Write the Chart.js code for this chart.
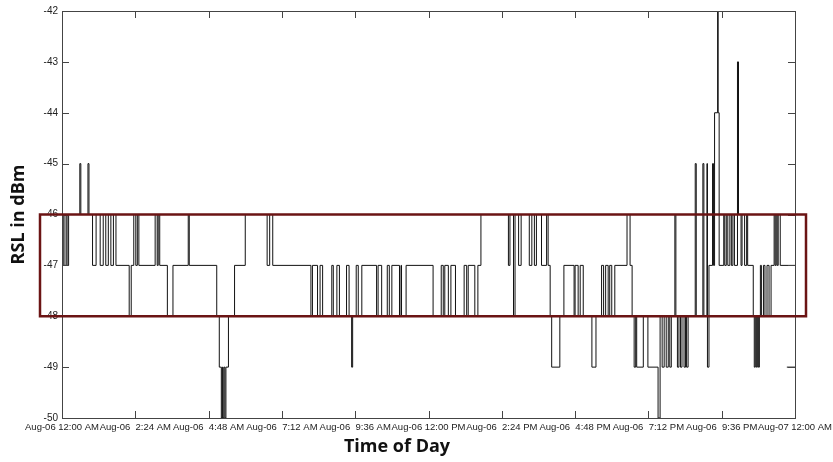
<!DOCTYPE html>
<html>
<head>
<meta charset="utf-8">
<script src="https://cdn.jsdelivr.net/npm/chart.js@4/dist/chart.umd.min.js"></script>
<style>
html,body{margin:0;background:#fff}
#wrap{width:833px;height:462px}
</style>
</head>
<body>
<div id="wrap"><canvas id="c"></canvas></div>
<script>
// RSL trace for one day (minutes after midnight, dBm)
const sampleMinutes = [
  0,2,4,8,10,13,35,37,51,53,60,67,75,81,86,91,96,101,106,132,136,141,145,148,151,183,187,189,192,207,218,248,250,
  304,309,313,315,316,318,320,322,327,339,360,403,408,414,
  489,492,502,507,512,530,533,540,545,559,564,569,571,578,582,589,618,621,628,639,643,648,663,666,667,676,
  729,745,749,752,759,764,773,790,795,798,811,817,823,
  877,880,887,890,897,902,918,923,928,932,942,952,955,959,962,978,986,
  1006,1008,1014,1018,1024,1041,1049,1060,1064,1068,1073,1076,1080,1086,1110,1116,1120,1124,1127,1129,
  1142,1151,1171,1175,1179,1183,1187,1191,1194,1197,1204,1206,1209,1212,1215,1218,1222,1225,1227,1230,
  1244,1246,1259,1261,1267,1268,1271,1278,1280,1282,1288,1289,1291,1300,1302,1305,1308,1312,1315,1318,1321,
  1327,1329,1334,1336,1341,1345,1347,1358,1360,1362,1364,1366,1368,1370,1372,1374,1378,1381,1385,1389,1393,
  1399,1401,1403,1405,1407,1411,1440
];
const rslDbm = [
  -47,-46,-47,-46,-47,-46,-45,-46,-45,-46,-47,-46,-47,-46,-47,-46,-47,-46,-47,-48,-47,-46,-47,-46,-47,-46,-47,-46,-47,-48,-47,-46,-47,
  -48,-49,-50,-49,-50,-49,-50,-49,-48,-47,-46,-47,-46,-47,
  -48,-47,-48,-47,-48,-47,-48,-47,-48,-47,-48,-49,-48,-47,-48,-47,-48,-47,-48,-47,-48,-47,-48,-47,-48,-47,
  -48,-47,-48,-47,-48,-47,-48,-47,-48,-47,-48,-47,-46,
  -47,-46,-48,-46,-47,-46,-47,-46,-47,-46,-47,-46,-47,-48,-49,-48,-47,
  -48,-47,-48,-47,-48,-49,-48,-47,-48,-47,-48,-47,-48,-47,-46,-47,-48,-49,-48,-49,
  -48,-49,-50,-48,-49,-48,-49,-48,-49,-48,-46,-48,-49,-48,-49,-48,-49,-48,-49,-48,
  -45,-48,-45,-48,-45,-49,-47,-45,-47,-44,-42,-44,-47,-46,-47,-46,-47,-46,-47,-46,-47,
  -43,-46,-47,-46,-47,-46,-47,-48,-49,-48,-49,-48,-49,-48,-47,-48,-47,-48,-47,-48,-47,
  -46,-47,-46,-47,-46,-47,-47
];
// short stray piece at the very end
const tailMinutes = [1424, 1440];
const tailDbm = [-49, -49];

const tickLabels = ['Aug-06 12:00 AM','Aug-06  2:24 AM','Aug-06  4:48 AM','Aug-06  7:12 AM','Aug-06  9:36 AM',
  'Aug-06 12:00 PM','Aug-06  2:24 PM','Aug-06  4:48 PM','Aug-06  7:12 PM','Aug-06  9:36 PM','Aug-07 12:00 AM'];
const xTitle = 'Time of Day', yTitle = 'RSL in dBm';
const yMin = -50, yMax = -42;
const bandTop = -46, bandBottom = -48;

const pts = (xs, ys) => xs.map((m, i) => ({ x: m, y: ys[i] }));
const titleFont = 'bold 18px "Open Sans"';

// MATLAB-ish box, inward ticks, the highlight rectangle and the x title
const frame = {
  id: 'frame',
  afterDatasetsDraw(chart) {
    const { ctx, chartArea: a, scales: { x, y } } = chart;
    ctx.save();
    ctx.strokeStyle = '#444'; ctx.lineWidth = 1;
    ctx.strokeRect(Math.round(a.left) + 0.5, Math.round(a.top) + 0.5, Math.round(a.right - a.left), Math.round(a.bottom - a.top));
    ctx.beginPath();
    x.ticks.forEach(t => {
      const px = Math.round(x.getPixelForValue(t.value)) + 0.5;
      ctx.moveTo(px, a.bottom); ctx.lineTo(px, a.bottom - 7);
      ctx.moveTo(px, a.top); ctx.lineTo(px, a.top + 7);
    });
    y.ticks.forEach(t => {
      const py = Math.round(y.getPixelForValue(t.value)) + 0.5;
      ctx.moveTo(a.left, py); ctx.lineTo(a.left + 7, py);
      ctx.moveTo(a.right, py); ctx.lineTo(a.right - 7, py);
    });
    ctx.stroke();
    const y1 = y.getPixelForValue(bandTop), y2 = y.getPixelForValue(bandBottom);
    ctx.strokeStyle = '#6b1414'; ctx.lineWidth = 2.5;
    ctx.strokeRect(a.left - 22, y1, a.right - a.left + 33, y2 - y1);
    ctx.fillStyle = '#111'; ctx.font = titleFont;
    ctx.textAlign = 'center'; ctx.textBaseline = 'middle';
    ctx.fillText(xTitle, 397, 447);
    ctx.restore();
  }
};

new Chart(document.getElementById('c'), {
  type: 'line',
  data: {
    datasets: [
      { data: pts(sampleMinutes, rslDbm), borderColor: '#111', borderWidth: 1, pointRadius: 0, stepped: 'before', fill: false },
      { data: pts(tailMinutes, tailDbm), borderColor: '#111', borderWidth: 1, pointRadius: 0, fill: false }
    ]
  },
  options: {
    animation: false, responsive: true, maintainAspectRatio: false,
    layout: { padding: { top: 11, right: 38, left: 0, bottom: 0 } },
    plugins: { legend: { display: false }, tooltip: { enabled: false } },
    scales: {
      x: {
        type: 'linear', min: 0, max: 1440,
        afterFit: s => { s.height = 44; s.paddingLeft = 0; s.paddingRight = 0; },
        grid: { display: false, drawTicks: false }, border: { display: false },
        ticks: { stepSize: 144, autoSkip: false, maxRotation: 0, padding: 4, color: '#222',
          font: { family: 'Liberation Sans', size: 9.5 },
          callback: (v, i) => tickLabels[i] }
      },
      y: {
        min: yMin, max: yMax,
        afterFit: s => { s.width = 62; },
        grid: { display: false, drawTicks: false }, border: { display: false },
        ticks: { stepSize: 1, padding: 4, color: '#222', font: { family: 'Liberation Sans', size: 10 } },
        title: { display: true, text: yTitle, color: '#111',
          font: { family: 'Open Sans', size: 18, weight: 'bold' }, padding: { top: 8, bottom: 0 } }
      }
    }
  },
  plugins: [frame]
});
</script>
</body>
</html>
